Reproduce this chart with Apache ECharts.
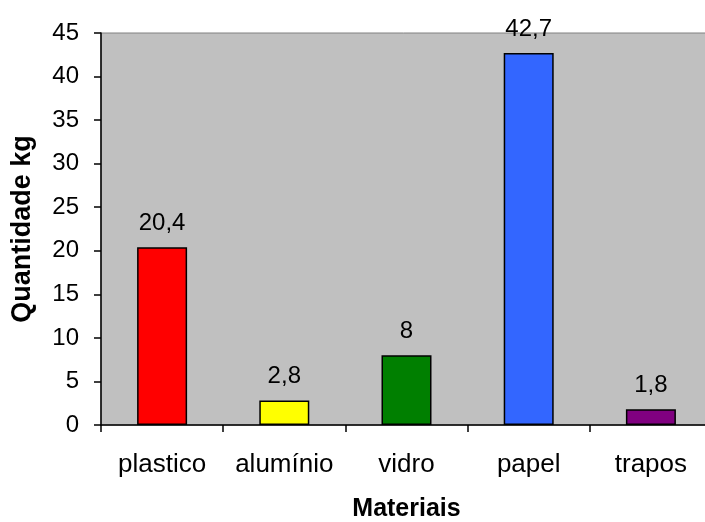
<!DOCTYPE html>
<html>
<head>
<meta charset="utf-8">
<script src="https://cdn.jsdelivr.net/npm/echarts@6/dist/echarts.min.js"></script>
<style>
  html, body { margin: 0; padding: 0; background: #ffffff; }
  #chart { width: 705px; height: 522px; }
</style>
</head>
<body>
<div id="chart"></div>
<script>
// Materials collected and their weight in kg
const categories = ['plastico', 'alumínio', 'vidro', 'papel', 'trapos'];
const quantities = [20.4, 2.8, 8, 42.7, 1.8];
const barColors = ['#FF0000', '#FFFF00', '#007F00', '#3366FF', '#800080'];

const FONT = '"Liberation Sans", Arial, sans-serif';

const chart = echarts.init(document.getElementById('chart'), null, { renderer: 'canvas' });

chart.setOption({
  animation: false,
  textStyle: { fontFamily: FONT },
  grid: {
    // the plot runs slightly past the right edge of the canvas
    outerBoundsMode: 'none',
    left: 101,
    top: 33,
    width: 611,
    height: 392,
    show: true,
    backgroundColor: '#C0C0C0',
    borderColor: '#808080',
    borderWidth: 1
  },
  xAxis: {
    type: 'category',
    data: categories,
    name: 'Materiais',
    nameLocation: 'middle',
    nameGap: 72,
    nameTextStyle: { fontFamily: FONT, fontSize: 25, fontWeight: 'bold', color: '#000' },
    axisLine: { lineStyle: { color: '#000', width: 1.5 } },
    axisTick: { show: true, interval: 0, length: 7, lineStyle: { color: '#000', width: 1.5 } },
    axisLabel: { interval: 0, hideOverlap: false, fontFamily: FONT, fontSize: 26, color: '#000', margin: 27 },
    splitLine: { show: false }
  },
  yAxis: {
    type: 'value',
    min: 0,
    max: 45,
    interval: 5,
    name: 'Quantidade kg',
    nameLocation: 'middle',
    nameGap: 65,
    nameTextStyle: { fontFamily: FONT, fontSize: 27, fontWeight: 'bold', color: '#000' },
    axisLine: { show: true, lineStyle: { color: '#000', width: 1.5 } },
    axisTick: { show: true, length: 7, lineStyle: { color: '#000', width: 1.5 } },
    axisLabel: { fontFamily: FONT, fontSize: 24, color: '#000', margin: 22 },
    splitLine: { show: false }
  },
  series: [{
    type: 'bar',
    data: quantities.map((v, i) => ({ value: v, itemStyle: { color: barColors[i] } })),
    barWidth: 50,
    itemStyle: { borderColor: '#000', borderWidth: 1.5 },
    label: {
      show: true,
      position: 'top',
      distance: 12,
      fontFamily: FONT,
      fontSize: 24,
      color: '#000',
      formatter: p => String(p.value).replace('.', ',')
    }
  }]
});
</script>
</body>
</html>
